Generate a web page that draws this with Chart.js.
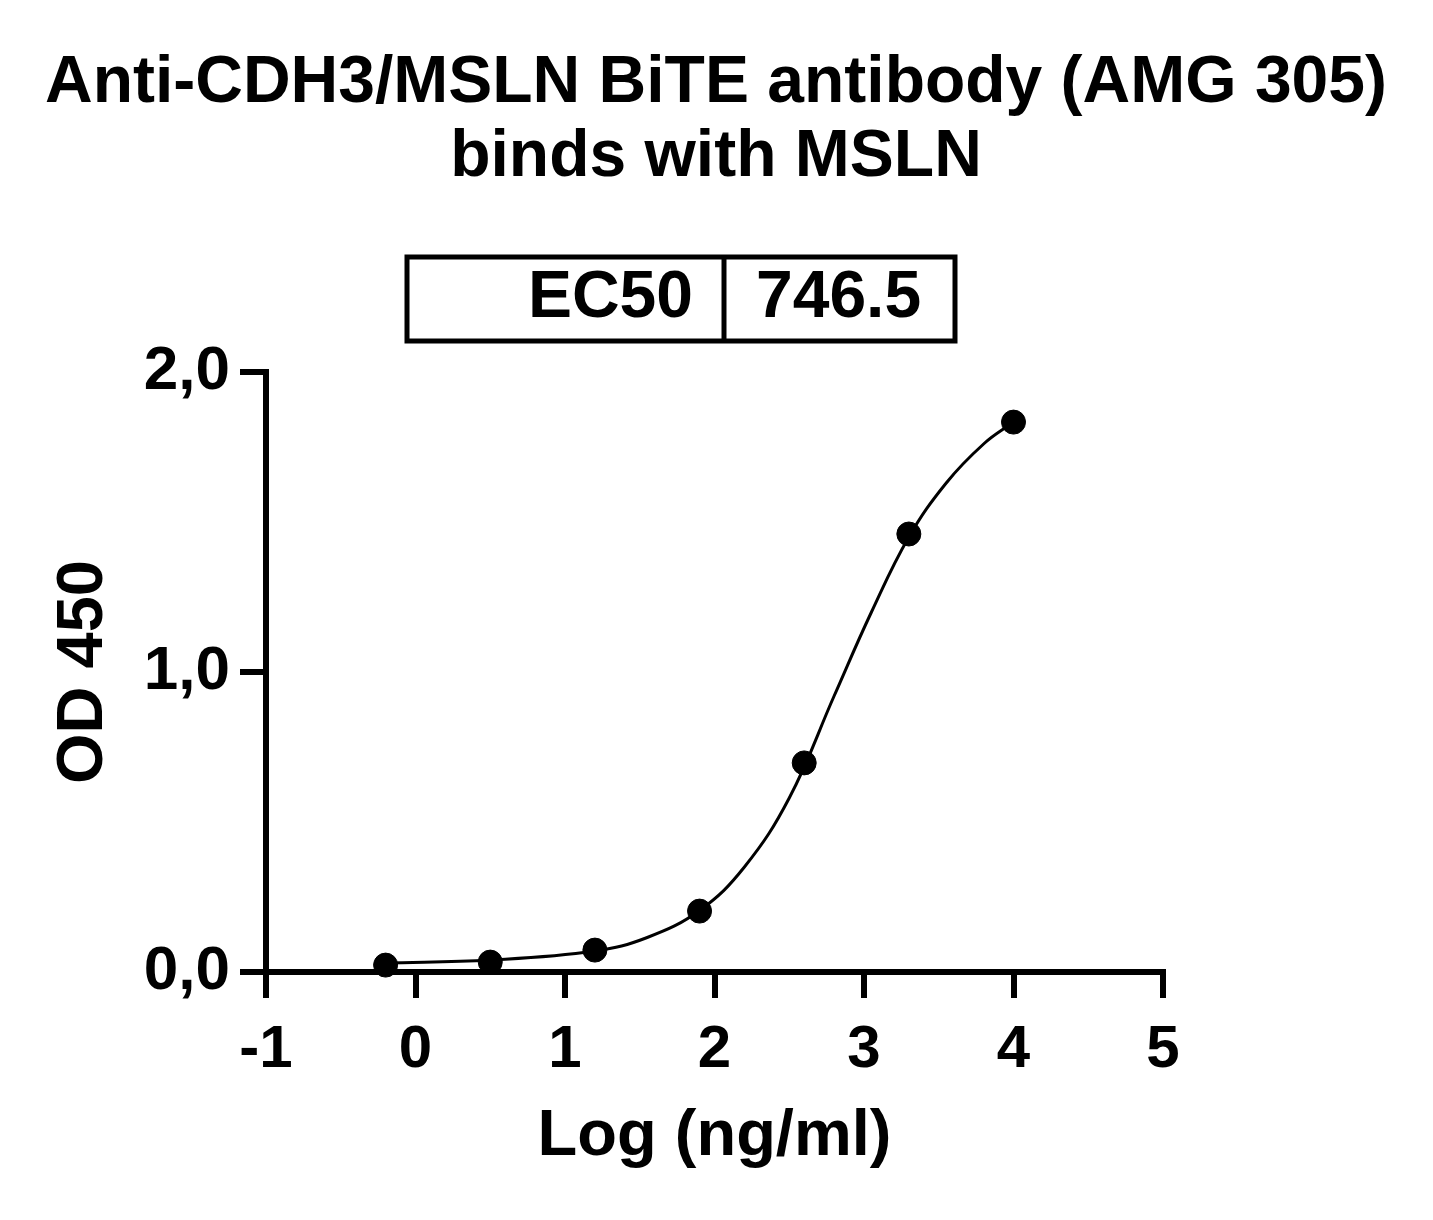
<!DOCTYPE html>
<html>
<head>
<meta charset="utf-8">
<script src="https://cdn.jsdelivr.net/npm/chart.js@4.4.1/dist/chart.umd.min.js"></script>
<style>
  body { margin: 0; background: #fff; }
  #wrap { width: 1433px; height: 1220px; position: relative; }
</style>
</head>
<body>
<div id="wrap"><canvas id="chart-canvas"></canvas></div>
<script>
// ### data ###
const titleLines = ["Anti-CDH3/MSLN BiTE antibody (AMG 305)", "binds with MSLN"];
const ec50Label = "EC50";
const ec50Value = "746.5";

// measured points (log ng/ml vs OD 450)
const logConc = [-0.2, 0.5, 1.2, 1.9, 2.6, 3.3, 4.0];
const od450 = [0.023, 0.033, 0.073, 0.203, 0.697, 1.46, 1.833];

// fitted curve
const fitX = [-0.2, 0.5, 1.2, 1.55, 1.9, 2.2, 2.5, 2.8, 3.05, 3.3, 3.55, 3.8, 4.0];
const fitY = [0.03, 0.04, 0.07, 0.115, 0.205, 0.35, 0.58, 0.92, 1.2, 1.45, 1.63, 1.76, 1.833];

// axis ticks
const xTicks = [-1, 0, 1, 2, 3, 4, 5];
const yTicks = [0, 1, 2];
const yTickLabels = ["0,0", "1,0", "2,0"];

// ### style ###
const BLACK = "#000000";
const FONT = "'Liberation Sans', Arial, sans-serif";

// ### plugins ###
const headerPlugin = {
  id: "header",
  afterDraw(chart) {
    const ctx = chart.ctx;
    ctx.save();
    ctx.fillStyle = BLACK;
    ctx.textAlign = "center";
    ctx.textBaseline = "middle";
    ctx.font = "bold 66px " + FONT;
    ctx.fillText(titleLines[0], 716, 84);
    ctx.fillText(titleLines[1], 716, 158);

    // EC50 table box
    ctx.strokeStyle = BLACK;
    ctx.lineWidth = 5;
    ctx.strokeRect(407, 257, 548, 84);
    ctx.beginPath();
    ctx.moveTo(724, 257);
    ctx.lineTo(724, 341);
    ctx.stroke();
    ctx.textAlign = "right";
    ctx.fillText(ec50Label, 693, 299);
    ctx.textAlign = "left";
    ctx.fillText(ec50Value, 756, 299);
    ctx.restore();
  },
};

// ### chart ###
function renderChart() {
  const chartCanvas = document.getElementById("chart-canvas");
  new Chart(chartCanvas, {
    type: "scatter",
    data: {
      datasets: [
        {
          label: "fit",
          type: "line",
          data: fitX.map((x, i) => ({ x: x, y: fitY[i] })),
          borderColor: BLACK,
          borderWidth: 3,
          pointRadius: 0,
          tension: 0.4,
          fill: false,
          clip: false,
        },
        {
          label: "OD 450",
          data: logConc.map((x, i) => ({ x: x, y: od450[i] })),
          backgroundColor: BLACK,
          borderColor: BLACK,
          pointRadius: 12,
          pointHoverRadius: 12,
          clip: false,
        },
      ],
    },
    options: {
      responsive: true,
      maintainAspectRatio: false,
      animation: false,
      events: [],
      layout: {
        padding: { left: 0, right: 270, top: 372, bottom: 0 },
      },
      plugins: {
        legend: { display: false },
        tooltip: { enabled: false },
      },
      scales: {
        x: {
          type: "linear",
          min: -1,
          max: 5,
          afterBuildTicks: (scale) => {
            scale.ticks = xTicks.map((v) => ({ value: v }));
          },
          afterFit: (scale) => {
            scale.height = 248;
          },
          border: { display: true, color: BLACK, width: 6 },
          grid: {
            drawOnChartArea: false,
            drawTicks: true,
            tickLength: 26,
            lineWidth: 6,
            color: BLACK,
          },
          ticks: {
            color: BLACK,
            padding: 16,
            font: { family: FONT, size: 60, weight: "bold" },
          },
          title: {
            display: true,
            text: "Log (ng/ml)",
            color: BLACK,
            padding: { top: 0, bottom: 44 },
            font: { family: FONT, size: 65, weight: "bold" },
          },
        },
        y: {
          type: "linear",
          min: 0,
          max: 2,
          afterBuildTicks: (scale) => {
            scale.ticks = yTicks.map((v) => ({ value: v }));
          },
          afterFit: (scale) => {
            scale.width = 266;
          },
          border: { display: true, color: BLACK, width: 6 },
          grid: {
            drawOnChartArea: false,
            drawTicks: true,
            tickLength: 26,
            lineWidth: 6,
            color: BLACK,
          },
          ticks: {
            color: BLACK,
            padding: 10,
            font: { family: FONT, size: 62, weight: "bold" },
            callback: (value) => yTickLabels[yTicks.indexOf(value)],
          },
          title: {
            display: true,
            text: "OD 450",
            color: BLACK,
            padding: { top: 45, bottom: 0 },
            font: { family: FONT, size: 65, weight: "bold" },
          },
        },
      },
    },
    plugins: [headerPlugin],
  });
}

renderChart();
</script>
</body>
</html>
